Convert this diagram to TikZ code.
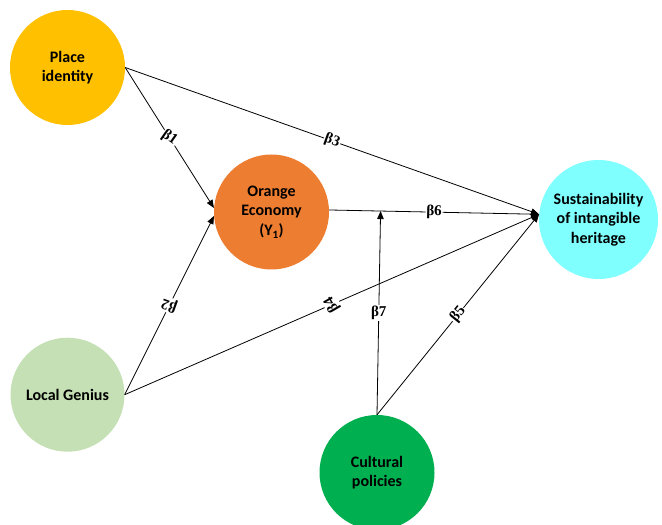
\documentclass[tikz,border=0pt]{standalone}
\usepackage{fontspec}
\setmainfont{Carlito}
\newfontfamily\betafont{Liberation Serif}
\usetikzlibrary{arrows.meta,calc}
\definecolor{picol}{HTML}{FFC000}
\definecolor{oecol}{HTML}{ED7D31}
\definecolor{sucol}{HTML}{80FFFF}
\definecolor{lgcol}{HTML}{C5E0B4}
\definecolor{cpcol}{HTML}{00B050}
\begin{document}
\begin{tikzpicture}[x=1pt,y=1pt,
  con/.style={draw=black, line width=0.8pt, -{Triangle[length=8pt,width=6.5pt]}},
  var/.style={circle, minimum size=#1, inner sep=0pt, align=center, text=black,
              font=\bfseries\fontsize{16}{19.5}\selectfont},
  beta/.style={fill=white, inner sep=0.8pt, font=\betafont\bfseries\fontsize{15}{15}\selectfont}]
\useasboundingbox (0,0) rectangle (662,525);
\node[var=115pt, fill=picol] (pi) at (67.5,457.5) {Place\\identity};
\node[var=115pt, fill=oecol] (oe) at (271.5,313) {Orange\\Economy\\(Y\textsubscript{1})};
\node[var=119pt, fill=sucol] (su) at (598.5,305.5) {Sustainability\\of intangible\\heritage};
\node[var=114pt, fill=lgcol] (lg) at (67.5,130.3) {Local Genius};
\node[var=115pt, fill=cpcol] (cp) at (377,52.5) {Cultural\\policies};
\coordinate (mid) at ($(oe.2)!0.245!(su.175)$);
\draw[con] (pi.east) -- node[beta, rotate=-35] {β1} (oe.176);
\draw[con] (pi.east) -- node[beta, sloped] {β3} (su.175);
\draw[con] (lg.east) -- node[beta, rotate=160] {β2} (oe.184);
\draw[con] (lg.east) -- node[beta, rotate=120] {β4} (su.175);
\draw[con] (oe.2) -- node[beta, sloped] {β6} (su.175);
\draw[con] (cp.north) -- node[beta] {β7} (mid);
\draw[con] (cp.north) -- node[beta, sloped] {β5} (su.175);
\end{tikzpicture}
\end{document}
